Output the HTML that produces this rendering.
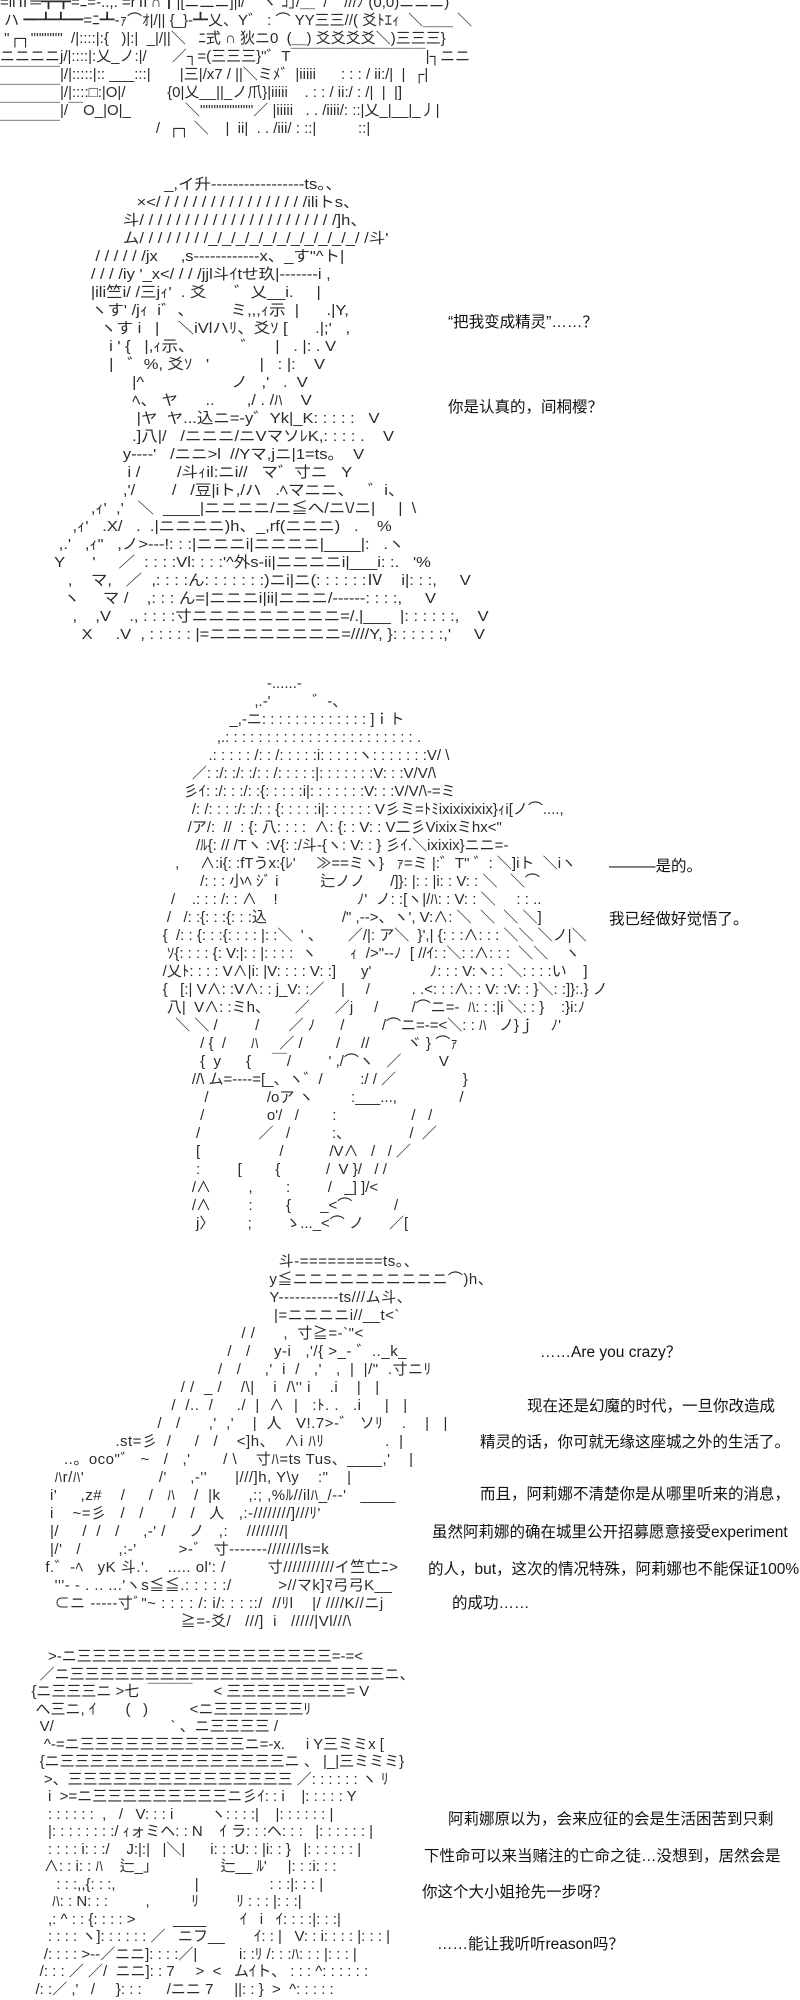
<!DOCTYPE html>
<html><head><meta charset="utf-8">
<style>
html,body{margin:0;padding:0;background:#fff;}
body{width:800px;height:2000px;position:relative;overflow:hidden;}
pre{position:absolute;margin:0;font-family:"Liberation Sans","Noto Sans CJK JP",sans-serif;font-size:15px;line-height:18px;color:#2a2a2a;white-space:pre;}
.t{position:absolute;font-family:"Liberation Sans","Noto Sans CJK SC",sans-serif;font-size:15.5px;line-height:20px;color:#111;white-space:nowrap;}
</style></head><body>

<pre style="left:0;top:-6px;">=ilⅡ═┳┳=ﾆ=-..,. =rⅡ∩┃|[ニ二ニ]|i/    ヽ ｺ｣/＿  /    ///ﾉ (0,0)ニニニ)
 ハ ━┻┻━=ﾆ┻-ｧ⌒ｵ|/|| {_}-┻乂、Y゛ : ⌒ YY三三//( 爻ﾄｴｨ  ＼＿＿ ＼
 "┌┐""""""  /|::::|:{   )|:|  _|/||＼   ﾆ式 ∩ 狄ニ0  (＿) 爻爻爻爻＼)三三三}
ニニニニj/|::::|:乂_ノ:|/      ／┐=(三三三}"゛T￣￣￣￣￣￣￣￣￣|┐ニニ
￣￣￣￣|/|:::::|:: ___:::|       |三|/x7 / ||＼ミﾒ゛|iiiii      : : : / ii:/|  |  ┌|
￣￣￣￣|/|::::□:|O|/          {0|乂__||_ノ爪}|iiiii    . : : / ii:/ : /|  |  |]
￣￣￣￣|/￣O_|O|_             ＼""""""""""／ |iiiii   . . /iiii/: ::|乂_|__|_丿|
￣￣￣￣                       /  ┌┐ ＼    |  ii|  . . /iii/ : ::|          ::|</pre>

<pre style="left:45px;top:176px;transform:scaleX(1.1);transform-origin:0 0;">                          _,イ升-----------------ts。、
                    ×&lt;/ / / / / / / / / / / / / / / / /iliトs、
                 斗/ / / / / / / / / / / / / / / / / / / / / /]h、
                 ム/ / / / / / / /_/_/_/_/_/_/_/_/_/_/_/ /斗'
           / / / / / /jx     ,s------------x、_す"^ト|
          / / / /iy '_x&lt;/ / / /jjl斗ｲtせ玖|-------i ,
          |ili竺i/ /三jｨ'  . 爻      ゛乂__i.     |
          ヽす' /jｨ  i゛、        ミ,,,ｨ示  |      .|Y,
            ヽす i   |    ＼iVlハﾘ、爻ｿ [      .|;'   ,
              i ' {   |,ｨ示、          ゛    |   . |: . V
              |   ゛%, 爻ｿ   '           |   : |:    V
                   |^                   ノ   ,'   .  V
                   ﾍ、 ヤ      ..       ,/ . /ﾊ    V
                    |ヤ  ヤ...込ニ=-y゛Yk|_K: : : : :   V
                   .]八|/   /ニニニ/ニVマソﾚK,: : : : .    V
                 y----'   /ニニ&gt;l  //Yマ,jニ|1=ts。  V
                  i /        /斗ｨil:ニi//   マ゛寸ニ   Y
                 ,'/        /   /豆|iト,/ハ   .ﾍマニニ、   ゛i、
          ,ｨ'  ,'   ＼  ____|ニニニニ/ニ≦へ/ニ\/ニ|     |  \
      ,ｨ'   .X/   .  .|ニニニニ)h、_,rf(ニニニ)   .    %
   ,.'   ,ｨ"   ,ノ&gt;---!: : :|ニニニi|ニニニニ|____|:   .ヽ
  Y      '     ／  : : : :Vl: : : :'^外s-ii|ニニニニi|___i: :.   '%
     ,    マ,   ／  ,: : : :ん: : : : : : :)ニi|ニ(: : : : : :Ⅳ    i|: : :,     V
    ヽ     マ /    ,: : : ん=|ニニニi|ii|ニニニ/------: : : :,     V
      ,    ,V    ., : : : :寸ニニニニニニニニニ=/.|___  |: : : : : :,    V
        X     .V  , : : : : : |=ニニニニニニニニ=////Y, }: : : : : :,'     V</pre>

<pre style="left:146px;top:675px;">                             -......-
                          ,.-'          ゛-、
                    _,-ニ: : : : : : : : : : : : : ]ｉト
                 ,.: : : : : : : : : : : : : : : : : : : : : : : .
               .: : : : : /: : /: : : : :i: : : : :ヽ: : : : : : :V/ \
           ／: :/: :/: :/: : /: : : : :|: : : : : : :V: : :V/V/\
         彡ｲ: :/: : :/: :{: : : : :i|: : : : : : :V: : :V/V/\-=ミ
           /: /: : : :/: :/: : {: : : : :i|: : : : : : V彡ミ=ﾄﾐixixixixix}ｨi[ノ⌒....,
          /ア/:  //  : {: 八: : : :  ∧: {: : V: : V二彡Vixixミhx&lt;"
            /ﾙ{: // /Tヽ :V{: :/斗-{ヽ: V: : } 彡ｲ.＼ixixix}ニニ=-
       ,     ∧:i{: :fTうx:{ﾚ'     ≫==ミヽ}   ｧ=ミ |:゛T" ゛: ＼]iト  ＼iヽ
             /: : : 小ﾍ ｼﾞ i          辷ノノ      /]}: |: : |i: : V: : ＼   ＼⌒
      /    .: : : /: : ∧    !                   ﾉ'  ノ: :[ヽ|/ﾊ: : V: : ＼     : : ..
     /   /: :{: : :{: : :込                  /" ,--&gt;、ヽ', V:∧: ＼  ＼  ＼ ＼]
    {  /: : {: : :{: : : : |: :＼  ' 、      ／/|: ア＼  }',| {: : :∧: : : ＼＼ ＼ノ|＼
     ｿ{: : : : {: V:|: : |: : : :  ヽ        ｨ  /&gt;"--ﾉ  [ //ｲ: :＼: :∧: : :  ＼＼    ヽ
    /乂ﾄ: : : : V∧|i: |V: : : : V: :]      y'              ﾉ: : : V:ヽ: : ＼: : : :い    ]
    {   [:| V∧: :V∧: : j_V: :／    |     /          . .&lt;: : :∧: : V: :V: : }＼: :]}:.} ノ
     八|  V∧: :ミh、      ／      ／j     /        /⌒ニ=-  ﾊ: : :|i ＼: : }    :}i:ﾉ
       ＼ ＼ /         /       ／ ﾉ      /         /⌒ニ=-=&lt;＼: : ﾊ   ノ}ｊ    ﾉ'
             / {  /      ﾊ     ／ /        /     //         ヾ } ⌒ｧ
             {  y      {     ￣/         ' ,/⌒ヽ   ／         V
           //\ ム=----=[_、ヽ゛/         :/ / ／                }
              /              /oア ヽ         :___...,               /
             /               o'/   /        :                  /   /
            /              ／   /          :、              /  ／
            [                   /           /V∧   /   / ／
            :         [        {           /  V }/   / /
           /∧         ,        :         /   _] ]/&lt;
           /∧         :        {       _&lt;⌒          /
            j〉        ;        ゝ..._&lt;⌒ ノ      ／[</pre>

<pre style="left:36px;top:1253px;letter-spacing:0.5px;">                                                    斗-=========ts。、
                                                  y≦ニニニニニニニニニニ⌒)h、
                                                  Y-----------ts///ム斗、
                                                   |=ニニニニi//__t&lt;`
                                            / /      ,  寸≧=-`"&lt;
                                         /   /     y-i   ,'/{ &gt;_- ゛.._k_
                                       /   /     ,'  i  /   ,'   ,  |  |/"  .寸ニﾘ
                               / /  _ /    /\|    i  /\'' i    .i    |   |
                             /  /..  /     ./  |  ∧  |   :ﾄ. .   .i     |   |
                          /   /      ,'  ,'    |  人   V!.7&gt;-゛ ソﾘ    .    |   |
                 .st=彡  /     /   /    &lt;]h、  ∧i ﾊﾘ             .  |
      ..。oco"゛ ~   /   ,'       / \    寸ﾊ=ts Tus、____,'    |
    ﾊr/ﾊ'                /'     ,-''      |///]h, Y\y    :"    |
   i'     ,z#    /     /   ﾊ    /  |k      ,:; ,%ﾙ//ilﾊ_/--'   ____
   i    ~=彡   /   /      /   /   人   ,:-////////]///ﾘ'
   |/     /  /   /     ,-' /     ノ   ,:    ////////|
   |/'   /        ,:-'         &gt;-゛ 寸-------///////ls=k
  f.゛-ﾍ   yK 斗.'.    ..... ol': /         寸///////////イ竺亡ﾆ&gt;
    '''- - . .. ...'ヽs≦≦.: : : : :/          &gt;//マk]ﾏ弓弓K__
    ⊂ニ -----寸ﾞ"~ : : : : /: i/: : : ::/  //ﾘl    |/ ////K//ニj
                               ≧=-爻/   ///]  i   /////|Vl///\</pre>

<pre style="left:23px;top:1648px;line-height:17.5px;">      &gt;-ニ三三三三三三三三三三三三三三三三三=-=&lt;
    ／ニ三三三三三三三三三三三三三三三三三三三三三ニ、
  {ニ三三三ニ &gt;七  ￣￣￣     &lt; 三三三三三三三三= V
   へ三ニ, ｲ       (   )          &lt;ニ三三三三三三ﾘ
    V/                            ` 、ニ三三三三 /
     ^-=ニ三三三三三三三三三三三ニ=-x.     i Y三ミミx [
    {ニ三三三三三三三三三三三三三三三ニ 、 |_|三ミミミ}
     &gt;、三三三三三三三三三三三三三三三 ／: : : : : : ヽ ﾘ
      i  &gt;=ニ三三三三三三三三三ニ彡ｲ: : i    |: : : : : Y
      : : : : : :  ,   /   V: : : i         ヽ: : : :|    |: : : : : : |
      |: : : : : : : :/ ｨォミヘ: : N    ｲ ラ: : :ヘ: : :   |: : : : : : |
      : : : : i: : :/    J:|:|   |＼|      i: : :U: : |i: : }   |: : : : : : |
     ∧: : i: : ﾊ    辷_」               辷__ ﾙ'     |: : :i: : :
        : : :,,{: : :,                   |                 : : :|: : : |
       ﾊ: : N: : :         ,          ﾘ         ﾘ : : : |: : :|
      ,: ^ : : {: : : : &gt;         ____        ｲ   i   ｲ: : : :|: : :|
      : : : : ヽ]: : : : : : ／   ニフ__       ｲ: : |   V: : i: : : : |: : : |
     /: : : : &gt;--／ニニ]: : : :／|          i: :ﾘ /: : :ﾊ: : : |: : : |
    /: : : ／ ／/  ニニ]: : 7     &gt;  &lt;   ムｲト、 : : : ^: : : : : :
   /: :／ ,'   /     }: : :      /ニニ 7     ||: : }  &gt;  ^: : : : :</pre>

<div class="t" style="left:448px;top:313px;">“把我变成精灵”……？</div>
<div class="t" style="left:448px;top:398px;">你是认真的，间桐樱？</div>

<div class="t" style="left:609px;top:857px;">———是的。</div>
<div class="t" style="left:609px;top:910px;">我已经做好觉悟了。</div>

<div class="t" style="left:540px;top:1343px;">……Are you crazy？</div>
<div class="t" style="left:527px;top:1397px;">现在还是幻魔的时代，一旦你改造成</div>
<div class="t" style="left:480px;top:1433px;">精灵的话，你可就无缘这座城之外的生活了。</div>
<div class="t" style="left:480px;top:1485px;">而且，阿莉娜不清楚你是从哪里听来的消息，</div>
<div class="t" style="left:432px;top:1523px;">虽然阿莉娜的确在城里公开招募愿意接受experiment</div>
<div class="t" style="left:428px;top:1560px;">的人，but，这次的情况特殊，阿莉娜也不能保证100%</div>
<div class="t" style="left:452px;top:1594px;">的成功……</div>

<div class="t" style="left:448px;top:1810px;">阿莉娜原以为，会来应征的会是生活困苦到只剩</div>
<div class="t" style="left:424px;top:1847px;">下性命可以来当赌注的亡命之徒…没想到，居然会是</div>
<div class="t" style="left:422px;top:1883px;">你这个大小姐抢先一步呀？</div>
<div class="t" style="left:437px;top:1935px;">……能让我听听reason吗？</div>

</body></html>
